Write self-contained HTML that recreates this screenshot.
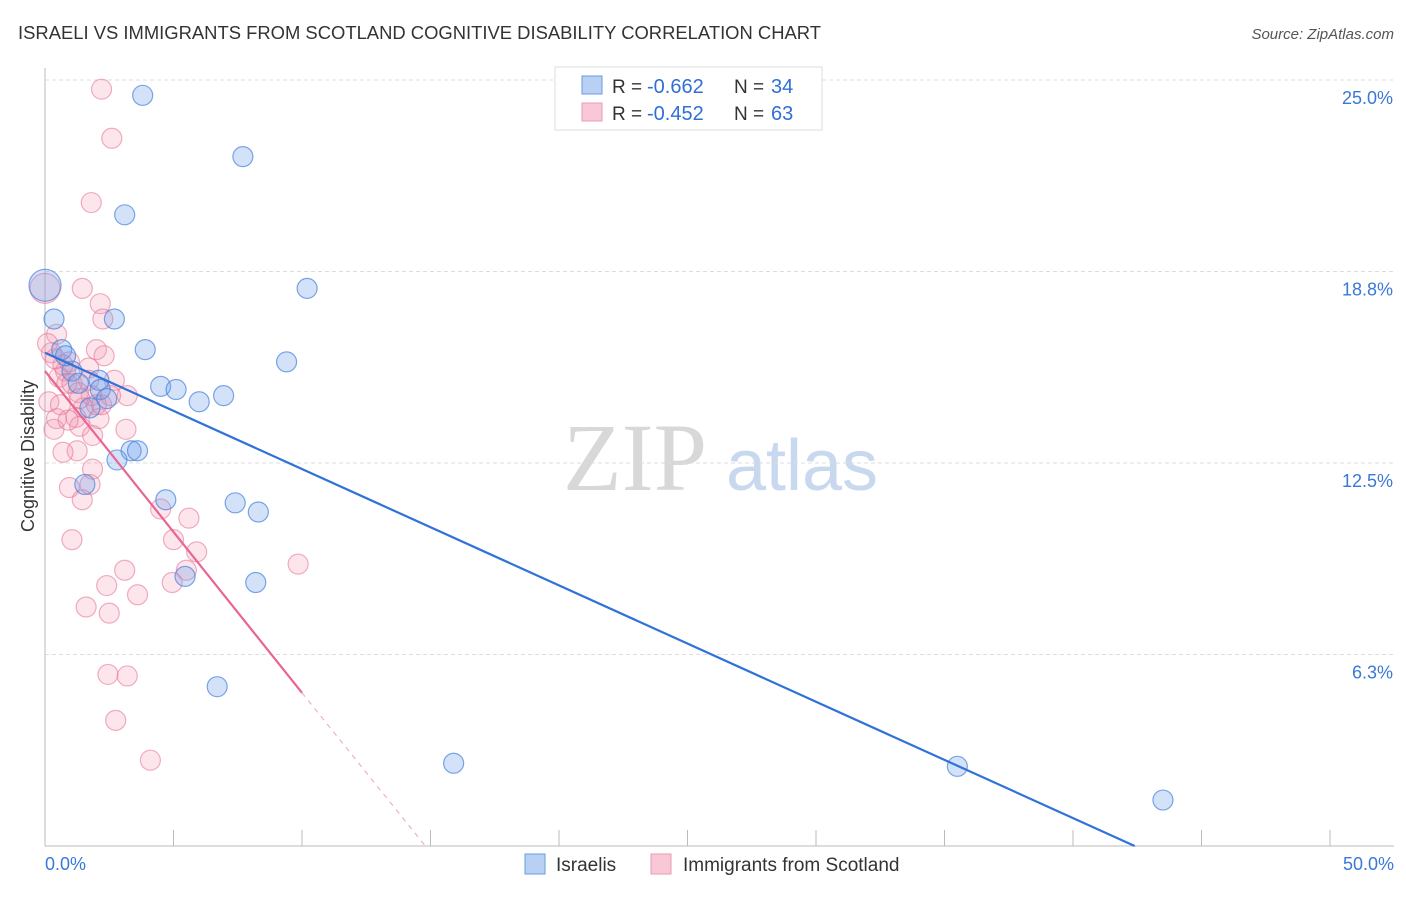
<!DOCTYPE html>
<html><head><meta charset="utf-8"><style>
body{margin:0;background:#fff;font-family:"Liberation Sans",sans-serif}
</style></head><body>
<svg id="chart" width="1406" height="892" xmlns="http://www.w3.org/2000/svg" font-family="Liberation Sans, sans-serif">
<text x="18" y="39" font-size="18" fill="#333" textLength="803" lengthAdjust="spacingAndGlyphs">ISRAELI VS IMMIGRANTS FROM SCOTLAND COGNITIVE DISABILITY CORRELATION CHART</text>
<text x="1394" y="39" font-size="15" fill="#555" text-anchor="end" font-style="italic">Source: ZipAtlas.com</text>
<g>
<text x="635" y="490" font-size="96" fill="#d8d8d8" text-anchor="middle" font-family="Liberation Serif, serif">ZIP</text>
<text x="802" y="490" font-size="72" fill="#c8d8ee" text-anchor="middle">atlas</text>
</g>
<g id="grid"></g>
<g id="axes"></g>
<g id="pts"></g>
<g id="lines"></g>
<text transform="translate(34,456) rotate(-90)" font-size="18" fill="#333" text-anchor="middle">Cognitive Disability</text>
<g>
<rect x="555" y="67" width="267" height="63" fill="#fff" stroke="#ddd"/>
<rect x="582" y="76" width="20" height="18" fill="#b8d0f4" stroke="#6b9be0"/>
<rect x="582" y="103" width="20" height="18" fill="#f9c8d6" stroke="#ec98b2"/>
<text x="612" y="93" font-size="19" fill="#333">R =</text>
<text x="647" y="93" font-size="20" fill="#2f6fd6">-0.662</text>
<text x="734" y="93" font-size="19" fill="#333">N =</text>
<text x="771" y="93" font-size="20" fill="#2f6fd6">34</text>
<text x="612" y="120" font-size="19" fill="#333">R =</text>
<text x="647" y="120" font-size="20" fill="#2f6fd6">-0.452</text>
<text x="734" y="120" font-size="19" fill="#333">N =</text>
<text x="771" y="120" font-size="20" fill="#2f6fd6">63</text>
</g>
<g>
<rect x="525" y="854" width="20" height="20" fill="#b8d0f4" stroke="#6b9be0"/>
<text x="556" y="871" font-size="19" fill="#333">Israelis</text>
<rect x="651" y="854" width="20" height="20" fill="#f9c8d6" stroke="#ec98b2"/>
<text x="683" y="871" font-size="19" fill="#333">Immigrants from Scotland</text>
</g>
</svg>
<script>
const yTicks=[6.3,12.5,18.8,25.0];
const yTickLabels=["6.3%","12.5%","18.8%","25.0%"];
const xTicks=[0,5,10,15,20,25,30,35,40,45,50];
const blueX=[3.8,7.7,3.1,0,10.2,0.35,2.7,3.9,0.65,9.4,4.5,5.1,2.1,1.05,1.3,2.15,2.4,6.0,6.95,1.75,3.35,3.6,2.8,1.55,4.7,7.4,8.3,5.45,8.2,6.7,15.9,35.5,43.5,0.8];
const blueY=[24.5,22.5,20.6,18.3,18.2,17.2,17.2,16.2,16.2,15.8,15.0,14.9,15.2,15.5,15.1,14.9,14.6,14.5,14.7,14.3,12.9,12.9,12.6,11.8,11.3,11.2,10.9,8.8,8.6,5.2,2.7,2.6,1.5,16.0];
const blueR=[10,10,10,16,10,10,10,10,10,10,10,10,10,10,10,10,10,10,10,10,10,10,10,10,10,10,10,10,10,10,10,10,10,10];
const pinkX=[2.2,2.6,1.8,1.45,0,2.15,2.25,0.45,0.1,2.0,2.3,0.25,0.95,1.7,0.8,0.55,2.7,0.85,1.3,1.8,3.2,0.15,0.6,1.5,2.0,1.2,0.45,2.1,1.35,0.35,3.15,1.25,0.7,1.85,0.95,1.75,1.45,4.5,5.6,5.0,5.9,1.05,3.1,5.5,2.4,4.95,3.6,1.6,2.5,9.85,2.45,3.2,2.75,4.1,1.05,1.7,0.7,1.35,2.2,0.4,2.55,0.9,1.85];
const pinkY=[24.7,23.1,21.0,18.2,18.2,17.7,17.2,16.7,16.4,16.2,16.0,16.1,15.8,15.6,15.5,15.3,15.2,15.1,14.8,14.7,14.7,14.5,14.4,14.3,14.4,13.99,13.95,13.95,13.7,13.6,13.6,12.9,12.85,12.3,11.7,11.8,11.3,11.0,10.7,10.0,9.6,10.0,9.0,9.0,8.5,8.6,8.2,7.8,7.6,9.2,5.6,5.55,4.1,2.8,15.1,15.2,15.7,14.6,14.4,15.9,14.7,13.9,13.4];
const blueFit=[[0,16.1],[42.4,0]];
const pinkFit=[[0,15.5],[10,5.0]];
const pinkDash=[[10,5.0],[14.8,0]];

const X=v=>45+v*25.7, Y=v=>846-v*30.64;
const NS="http://www.w3.org/2000/svg";
function mk(parent,tag,attrs){const e=document.createElementNS(NS,tag);for(const k in attrs)e.setAttribute(k,attrs[k]);document.getElementById(parent).appendChild(e);return e;}
yTicks.forEach((t,i)=>{
  const yy=Y(t===6.3?6.25:t===18.8?18.75:t);
  const g=mk('grid','line',{x1:45,x2:1394,y1:yy,y2:yy,stroke:'#ddd','stroke-dasharray':'4,3'});
  
  
  const l=mk('grid','text',{x:1393,y:yy+24,'font-size':18,fill:'#3a78d8','text-anchor':'end'});
  l.textContent=yTickLabels[i];
  
  
});
const ax=mk('axes','line',{x1:45,x2:1394,y1:846,y2:846,stroke:'#bbb'});


const ay=mk('axes','line',{x1:45,x2:45,y1:68,y2:846,stroke:'#bbb'});


xTicks.forEach(t=>{const k=mk('axes','line',{x1:X(t),x2:X(t),y1:830,y2:846,stroke:'#bbb'});

});
const xl0=mk('axes','text',{x:45,y:870,'font-size':18,fill:'#3a78d8'});xl0.textContent='0.0%';


const xl1=mk('axes','text',{x:1394,y:870,'font-size':18,fill:'#3a78d8','text-anchor':'end'});xl1.textContent='50.0%';


pinkX.forEach((x,i)=>{const c=mk('pts','circle',{cx:X(x),cy:Y(pinkY[i]),r:i===4?15:10,fill:'rgba(242,140,170,0.22)',stroke:'rgba(232,120,155,0.6)','stroke-width':1.2});

});
blueX.forEach((x,i)=>{const c=mk('pts','circle',{cx:X(x),cy:Y(blueY[i]),r:blueR[i],fill:'rgba(110,160,235,0.3)',stroke:'rgba(70,130,220,0.7)','stroke-width':1.2});

});
const bl=mk('lines','line',{x1:X(blueFit[0][0]),y1:Y(blueFit[0][1]),x2:X(blueFit[1][0]),y2:Y(blueFit[1][1]),stroke:'#2f72d8','stroke-width':2.2});


const pl=mk('lines','line',{x1:X(pinkFit[0][0]),y1:Y(pinkFit[0][1]),x2:X(pinkFit[1][0]),y2:Y(pinkFit[1][1]),stroke:'#e8668f','stroke-width':2.2});


const pd=mk('lines','line',{x1:X(pinkDash[0][0]),y1:Y(pinkDash[0][1]),x2:X(pinkDash[1][0]),y2:Y(pinkDash[1][1]),stroke:'#f0a0b8','stroke-width':1,'stroke-dasharray':'5,5'});


</script>
</body></html>
